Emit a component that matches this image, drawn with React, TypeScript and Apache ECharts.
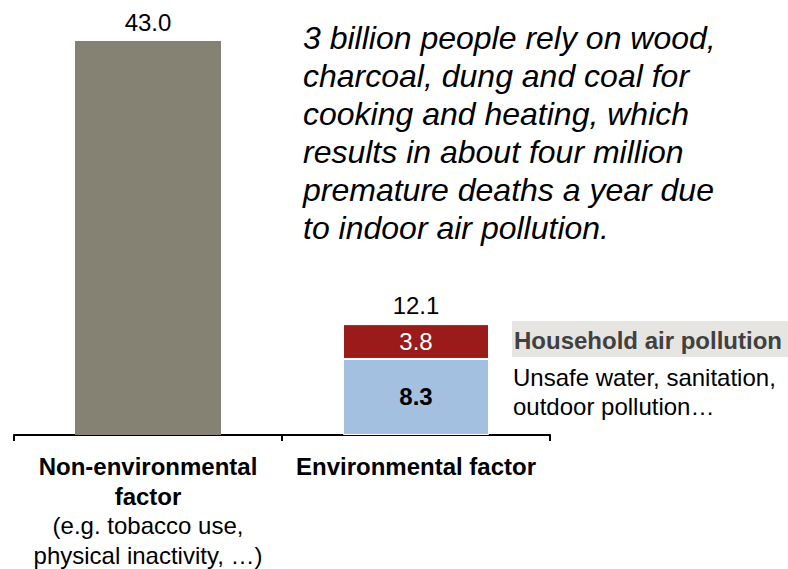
import React, { useEffect, useRef } from 'react';
import * as echarts from 'echarts';

const categories = ['Non-environmental factor', 'Environmental factor'];
const nonEnvironmentalValues: (number | null)[] = [43.0, null];
const otherEnvironmentalValues: (number | null)[] = [null, 8.3];
const householdAirValues: (number | null)[] = [null, 3.8];

const categoryBoldLines = [['Non-environmental', 'factor'], ['Environmental factor']];
const categoryNoteLines = [['(e.g. tobacco use,', 'physical inactivity, …)'], []];

const noteLines = [
  '3 billion people rely on wood,',
  'charcoal, dung and coal for',
  'cooking and heating, which',
  'results in about four million',
  'premature deaths a year due',
  'to indoor air pollution.',
];
const householdLabel = 'Household air pollution';
const otherLabelLines = ['Unsafe water, sanitation,', 'outdoor pollution…'];

const FONT = '"Liberation Sans", Arial, sans-serif';
const FS = 24;

export default function App() {
  const ref = useRef<HTMLDivElement>(null);
  useEffect(() => {
    if (!ref.current) return;
    const chart = echarts.init(ref.current, null, { renderer: 'svg' });
    const totals = categories.map((_, i) => {
      const a = otherEnvironmentalValues[i] ?? 0;
      const b = householdAirValues[i] ?? 0;
      return a + b;
    });
    const option: any = {
      animation: false,
      textStyle: { fontFamily: FONT },
      grid: { left: 14, right: 238, top: 41, bottom: 134, containLabel: false },
      xAxis: {
        type: 'category',
        data: categories,
        axisLine: { show: true, lineStyle: { color: '#000', width: 2 } },
        axisTick: { show: true, length: 6, lineStyle: { color: '#000', width: 2 } },
        axisLabel: {
          margin: 17,
          interval: 0,
          formatter: (_v: string, idx: number) => {
            const parts: string[] = [];
            categoryBoldLines[idx].forEach((l) => parts.push('{b|' + l + '}'));
            categoryNoteLines[idx].forEach((l) => parts.push('{r|' + l + '}'));
            return parts.join('\n');
          },
          rich: {
            b: { fontFamily: FONT, fontSize: FS, fontWeight: 'bold', color: '#000', lineHeight: 29.5 },
            r: { fontFamily: FONT, fontSize: FS, color: '#000', lineHeight: 29.5 },
          },
        },
      },
      yAxis: { type: 'value', min: 0, max: 43, show: false, splitLine: { show: false } },
      series: [
        {
          name: 'Non-environmental',
          type: 'bar',
          stack: 'all',
          barWidth: 146,
          data: nonEnvironmentalValues,
          itemStyle: { color: '#858173' },
          label: {
            show: true,
            position: 'top',
            distance: 7,
            fontFamily: FONT,
            fontSize: FS,
            color: '#000',
            formatter: (p: any) => Number(p.value).toFixed(1),
          },
        },
        {
          name: 'Other environmental',
          type: 'bar',
          stack: 'all',
          barWidth: 146,
          data: otherEnvironmentalValues,
          itemStyle: { color: '#A3C0E0', borderColor: '#fff', borderWidth: 1 },
          label: {
            show: true,
            position: 'inside',
            fontFamily: FONT,
            fontSize: FS,
            fontWeight: 'bold',
            color: '#000',
            formatter: (p: any) => Number(p.value).toFixed(1),
          },
        },
        {
          name: 'Household air pollution',
          type: 'bar',
          stack: 'all',
          barWidth: 146,
          data: householdAirValues,
          itemStyle: { color: '#9B1A1A', borderColor: '#fff', borderWidth: 1 },
          label: {
            show: true,
            position: 'inside',
            fontFamily: FONT,
            fontSize: FS,
            color: '#fff',
            formatter: (p: any) => Number(p.value).toFixed(1),
          },
        },
        {
          name: 'Total',
          type: 'bar',
          stack: 'all',
          barWidth: 146,
          data: categories.map((_, i) => (householdAirValues[i] == null ? null : 0)),
          itemStyle: { color: 'transparent' },
          label: {
            show: true,
            position: 'top',
            distance: 7,
            fontFamily: FONT,
            fontSize: FS,
            color: '#000',
            formatter: (p: any) => totals[p.dataIndex].toFixed(1),
          },
        },
      ],
      graphic: [
        {
          type: 'text',
          left: 303,
          top: 19,
          style: {
            text: noteLines.join('\n'),
            fontFamily: FONT,
            fontSize: 32,
            fontStyle: 'italic',
            lineHeight: 38,
            fill: '#000',
          },
        },
        {
          type: 'rect',
          shape: { x: 512, y: 321, width: 276, height: 36 },
          style: { fill: '#E6E5E1' },
        },
        {
          type: 'text',
          x: 514,
          y: 340,
          style: {
            text: householdLabel,
            fontFamily: FONT,
            fontSize: FS,
            fontWeight: 'bold',
            fill: '#404040',
            verticalAlign: 'middle',
          },
        },
        {
          type: 'text',
          x: 513,
          y: 363,
          style: {
            text: otherLabelLines.join('\n'),
            fontFamily: FONT,
            fontSize: FS,
            lineHeight: 29,
            fill: '#000',
          },
        },
      ],
    };
    chart.setOption(option);
    return () => chart.dispose();
  }, []);
  return (
    <div
      ref={ref}
      style={{ position: 'absolute', left: 0, top: 0, width: 788, height: 569, background: '#fff' }}
    />
  );
}
